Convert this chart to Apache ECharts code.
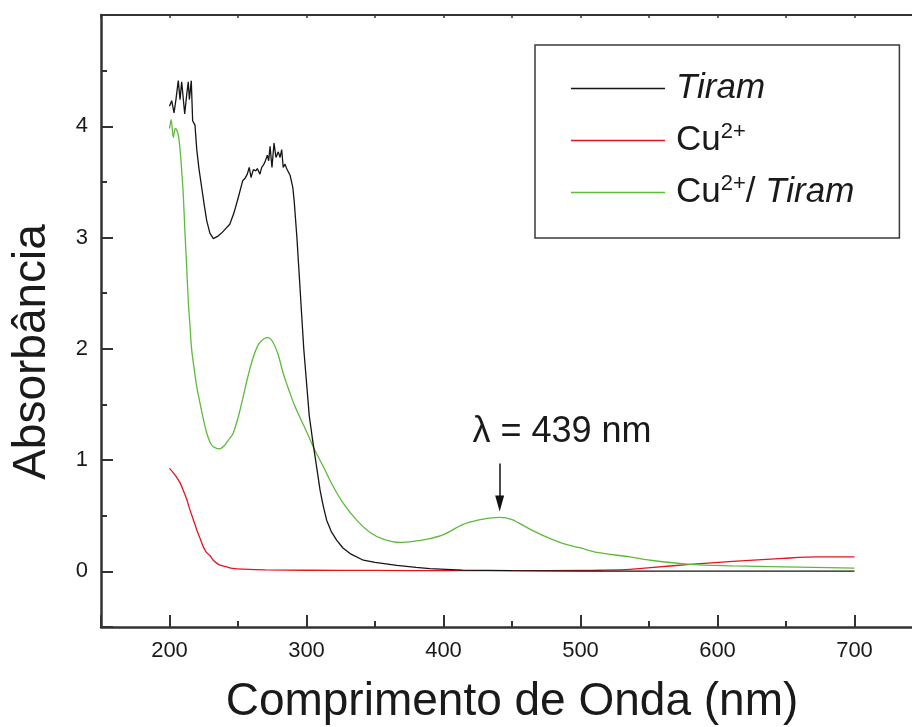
<!DOCTYPE html>
<html>
<head>
<meta charset="utf-8">
<script src="https://cdn.jsdelivr.net/npm/echarts@6/dist/echarts.min.js"></script>
<style>
html,body{margin:0;padding:0;background:#fff;}
#chart{width:912px;height:727px;}
</style>
</head>
<body>
<div id="chart"></div>
<script>
// ---- data ----
const tiramNm = [200,201.6,203.3,204.7,206.4,207.7,208.9,211.1,212.6,213.7,214.5,215.9,216.9,218.6,219.9,221.5,223.5,225.5,227.2,229.5,232,235,238,241,244,247,250.2,253.4,255,256.8,258.2,259.5,261.2,263.1,264.1,266,267.3,268.5,269.7,271.4,272.4,273.4,274.8,276.3,277.7,279.4,280.7,281.9,283,284.3,285.5,288,290,291,293,295,296.5,298,300,302,304.7,307,309.9,312,314.7,318,322,326.6,331.8,341.5,350,366,380,390,414,450,500,600,700];
const tiramAbs = [4.18,4.23,4.12,4.24,4.41,4.24,4.40,4.11,4.29,4.40,4.24,4.41,4.05,4.01,3.79,3.62,3.45,3.28,3.15,3.04,2.99,3.01,3.04,3.08,3.12,3.22,3.36,3.51,3.53,3.57,3.63,3.54,3.61,3.60,3.62,3.57,3.63,3.65,3.68,3.74,3.69,3.82,3.63,3.85,3.72,3.77,3.72,3.79,3.63,3.66,3.62,3.56,3.45,3.33,3.00,2.60,2.30,2.00,1.70,1.40,1.16,0.97,0.73,0.60,0.46,0.36,0.28,0.21,0.16,0.10,0.08,0.054,0.035,0.024,0.012,0.006,0.003,0.002,0.002];

const cuNm = [200,202.5,205,207.5,210,212.5,215,217.5,220,222.5,224.7,227,229.6,232,236,241.8,246,253.6,270,300,350,400,450,500,514,536,551,580,611,648,673,700];
const cuAbs = [0.925,0.89,0.85,0.80,0.73,0.65,0.55,0.46,0.37,0.29,0.22,0.17,0.14,0.10,0.06,0.04,0.027,0.02,0.013,0.01,0.008,0.006,0.006,0.008,0.01,0.018,0.033,0.063,0.09,0.117,0.13,0.13];

const mixNm = [200,201.2,202.8,204.2,205.5,206.7,208,208.9,210,211.3,212.5,213.7,215,216.2,218,219.9,222.3,224.7,227,229.6,232,236.4,240,243,246.4,250,253.6,257,261,265,269,272,275,279,283,286,288,291,295,298,301,305.7,312.3,319.6,326.9,336.6,346.4,356,368,378,390,400,414,425,435,441,450,463,475,487.5,500,512,536,551,580,611,648,700];
const mixAbs = [3.98,4.06,3.90,3.98,3.96,3.90,3.75,3.60,3.40,3.04,2.75,2.43,2.20,1.99,1.82,1.66,1.51,1.37,1.25,1.16,1.12,1.10,1.13,1.18,1.24,1.38,1.56,1.74,1.92,2.04,2.09,2.10,2.07,1.96,1.78,1.67,1.60,1.50,1.39,1.31,1.23,1.10,0.94,0.76,0.61,0.46,0.35,0.29,0.26,0.27,0.295,0.33,0.42,0.46,0.48,0.485,0.465,0.38,0.31,0.25,0.21,0.17,0.13,0.10,0.063,0.05,0.04,0.03];

const seriesNames = ['Tiram', 'Cu2+', 'Cu2+/ Tiram'];
const xTickValues = [200, 300, 400, 500, 600, 700];
const yTickValues = [0, 1, 2, 3, 4];

// annotation: arrow pointing at the 439 nm band
const annotText = 'λ = 439 nm';
const annotPos = [486.5, 1.25];
const arrowNm = [441, 441];
const arrowAbs = [0.97, 0.61];

function zip(xs, ys) { return xs.map((x, i) => [x, ys[i]]); }

const legendRich = {
  Tiram: '{i|Tiram}',
  'Cu2+': '{n|Cu}{s|2+}',
  'Cu2+/ Tiram': '{n|Cu}{s|2+}{n|/ }{i|Tiram}'
};

const chart = echarts.init(document.getElementById('chart'));
const axisColor = '#333333';
const textColor = '#1a1a1a';
const font = 'Liberation Sans, Arial, sans-serif';

chart.setOption({
  animation: false,
  backgroundColor: '#ffffff',
  grid: { left: 101, top: 15, width: 822, height: 612, containLabel: false, outerBoundsMode: 'none' },
  legend: {
    orient: 'vertical',
    left: 535,
    top: 45,
    padding: [26, 45, 28, 36],
    icon: 'rect',
    itemWidth: 94,
    itemHeight: 1.4,
    itemGap: 14.5,
    borderColor: '#3a3a3a',
    borderWidth: 1.5,
    selectedMode: false,
    data: seriesNames,
    formatter: name => legendRich[name],
    textStyle: {
      padding: [0, 0, 0, 6],
      rich: {
        n: { fontSize: 35, fontFamily: font, color: textColor, lineHeight: 40 },
        i: { fontSize: 35, fontFamily: font, fontStyle: 'italic', color: textColor, lineHeight: 40 },
        s: { fontSize: 22, fontFamily: font, color: textColor, lineHeight: 7, verticalAlign: 'top' }
      }
    }
  },
  xAxis: [
    {
      type: 'value', position: 'bottom', min: 150, max: 750,
      splitNumber: 6, minInterval: 100, maxInterval: 100,
      name: 'Comprimento de Onda (nm)', nameLocation: 'middle', nameGap: 52,
      nameTextStyle: { fontSize: 46, fontFamily: font, color: textColor },
      axisLine: { show: true, onZero: false, lineStyle: { color: axisColor, width: 2.5 } },
      axisTick: { show: true, inside: true, length: 12, lineStyle: { color: axisColor, width: 2 } },
      axisLabel: {
        show: true, margin: 13, fontSize: 22, fontFamily: font, color: textColor,
        formatter: v => (xTickValues.indexOf(v) >= 0 ? String(v) : '')
      },
      splitLine: { show: false }
    },
    {
      type: 'value', position: 'bottom', min: 150, max: 750, interval: 50,
      axisLine: { show: false, onZero: false },
      axisTick: { show: true, inside: true, length: 6, lineStyle: { color: axisColor, width: 2 } },
      axisLabel: { show: false },
      splitLine: { show: false }
    },
    {
      type: 'value', position: 'top', min: 150, max: 750, interval: 50,
      axisLine: { show: true, onZero: false, lineStyle: { color: axisColor, width: 2 } },
      axisTick: { show: true, inside: true, length: 3, lineStyle: { color: axisColor, width: 1.5 } },
      axisLabel: { show: false },
      splitLine: { show: false }
    }
  ],
  yAxis: [
    {
      type: 'value', position: 'left', min: -0.5, max: 5,
      splitNumber: 5, minInterval: 1, maxInterval: 1,
      name: 'Absorbância', nameLocation: 'middle', nameGap: 46,
      nameTextStyle: { fontSize: 46, fontFamily: font, color: textColor, padding: [0, 62, 0, 0] },
      axisLine: { show: true, onZero: false, lineStyle: { color: axisColor, width: 2.5 } },
      axisTick: { show: true, inside: true, length: 12, lineStyle: { color: axisColor, width: 2 } },
      axisLabel: {
        show: true, margin: 13, fontSize: 22, fontFamily: font, color: textColor,
        formatter: v => (yTickValues.indexOf(v) >= 0 ? String(v) : '')
      },
      splitLine: { show: false }
    },
    {
      type: 'value', position: 'left', min: -0.5, max: 5, interval: 0.5,
      axisLine: { show: false, onZero: false },
      axisTick: { show: true, inside: true, length: 6, lineStyle: { color: axisColor, width: 2 } },
      axisLabel: { show: false },
      splitLine: { show: false }
    }
  ],
  series: [
    {
      name: seriesNames[0], type: 'line', xAxisIndex: 0, yAxisIndex: 0,
      data: zip(tiramNm, tiramAbs), symbol: 'none', smooth: false,
      lineStyle: { color: '#151515', width: 1.3 }, itemStyle: { color: '#151515' }, z: 3
    },
    {
      name: seriesNames[1], type: 'line', xAxisIndex: 0, yAxisIndex: 0,
      data: zip(cuNm, cuAbs), symbol: 'none', smooth: 0.3,
      lineStyle: { color: '#e3151e', width: 1.3 }, itemStyle: { color: '#e3151e' }, z: 2
    },
    {
      name: seriesNames[2], type: 'line', xAxisIndex: 0, yAxisIndex: 0,
      data: zip(mixNm, mixAbs), symbol: 'none', smooth: 0.3,
      lineStyle: { color: '#5dbb3a', width: 1.3 }, itemStyle: { color: '#5dbb3a' }, z: 2,
      markLine: {
        silent: true, animation: false,
        symbol: ['none', 'path://M5,0 L10,20 L0,20 Z'],
        label: { show: false },
        lineStyle: { color: '#111111', width: 1.5, type: 'solid' },
        itemStyle: { color: '#111111' },
        emphasis: { disabled: true },
        data: [[
          { coord: [arrowNm[0], arrowAbs[0]], symbolSize: 1 },
          { coord: [arrowNm[1], arrowAbs[1]], symbolSize: [9, 16] }
        ]]
      },
      markPoint: {
        silent: true, symbol: 'circle', symbolSize: 1,
        itemStyle: { color: 'rgba(0,0,0,0)' },
        label: { show: true, position: 'inside', formatter: annotText, fontSize: 36, fontFamily: font, color: textColor },
        data: [{ coord: annotPos }]
      }
    }
  ]
});
</script>
</body>
</html>
